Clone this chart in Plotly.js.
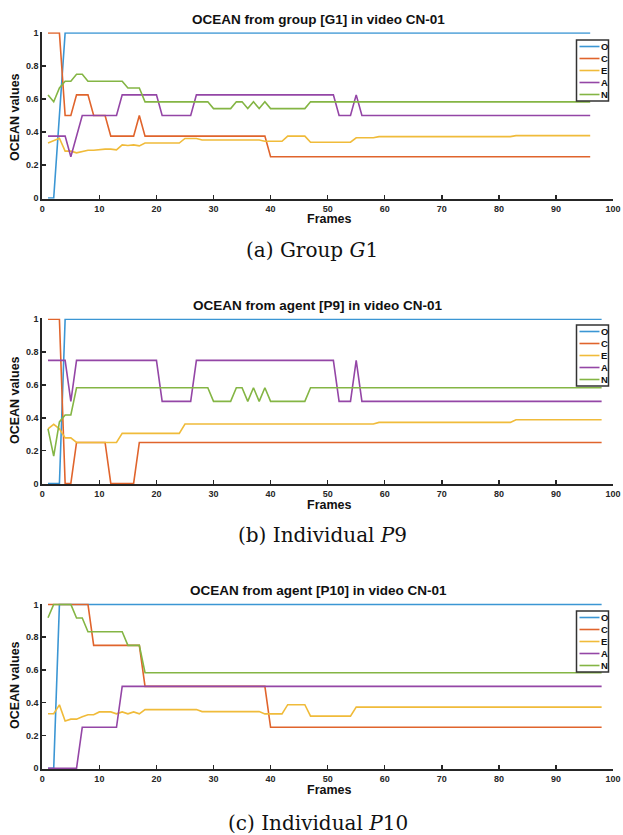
<!DOCTYPE html>
<html>
<head>
<meta charset="utf-8">
<script src="https://cdn.plot.ly/plotly-3.0.1.min.js"></script>
<style>html,body{margin:0;padding:0;background:#fff;}#chart{width:623px;height:835px;}</style>
</head>
<body>
<div id="chart"></div>
<script>
// ---------- Data (frame, value) breakpoints ----------
// Panel (a) Group G1
const g1_O_x = [1,2,4,96];
const g1_O_y = [0,0,1,1];
const g1_C_x = [1,3,4,5,6,8,9,11,12,16,17,18,39,40,96];
const g1_C_y = [1,1,0.5,0.5,0.625,0.625,0.5,0.5,0.375,0.375,0.5,0.375,0.375,0.25,0.25];
const g1_E_x = [1,2,3,4,5,6,7,8,9,10,11,12,13,14,15,16,17,18,24,25,27,28,38,39,42,43,46,47,54,55,58,59,82,83,96];
const g1_E_y = [0.333,0.347,0.362,0.284,0.284,0.274,0.283,0.289,0.289,0.293,0.296,0.296,0.292,0.322,0.318,0.322,0.316,0.333,0.333,0.361,0.361,0.352,0.352,0.344,0.344,0.375,0.375,0.338,0.338,0.365,0.365,0.372,0.372,0.378,0.378];
const g1_A_x = [1,4,5,7,13,14,20,21,26,27,51,52,54,55,56,96];
const g1_A_y = [0.375,0.375,0.25,0.5,0.5,0.625,0.625,0.5,0.5,0.625,0.625,0.5,0.5,0.625,0.5,0.5];
const g1_N_x = [1,2,3,4,5,6,7,8,14,15,17,18,29,30,33,34,35,36,37,38,39,40,46,47,96];
const g1_N_y = [0.625,0.583,0.667,0.708,0.708,0.75,0.75,0.708,0.708,0.667,0.667,0.583,0.583,0.542,0.542,0.583,0.583,0.542,0.583,0.542,0.583,0.542,0.542,0.583,0.583];

// Panel (b) Individual P9
const p9_O_x = [1,3,4,98];
const p9_O_y = [0,0,1,1];
const p9_C_x = [1,3,4,5,6,11,12,16,17,98];
const p9_C_y = [1,1,0,0,0.25,0.25,0,0,0.25,0.25];
const p9_E_x = [1,2,3,4,5,6,13,14,24,25,58,59,82,83,98];
const p9_E_y = [0.333,0.36,0.333,0.278,0.278,0.25,0.25,0.305,0.305,0.362,0.362,0.372,0.372,0.388,0.388];
const p9_A_x = [1,4,5,6,20,21,26,27,51,52,54,55,56,98];
const p9_A_y = [0.75,0.75,0.5,0.75,0.75,0.5,0.5,0.75,0.75,0.5,0.5,0.75,0.5,0.5];
const p9_N_x = [1,2,3,4,5,6,29,30,33,34,35,36,37,38,39,40,46,47,98];
const p9_N_y = [0.333,0.167,0.375,0.417,0.417,0.583,0.583,0.5,0.5,0.583,0.583,0.5,0.583,0.5,0.583,0.5,0.5,0.583,0.583];

// Panel (c) Individual P10
const p10_O_x = [1,2,3,98];
const p10_O_y = [0,0,1,1];
const p10_C_x = [1,8,9,17,18,39,40,98];
const p10_C_y = [1,1,0.75,0.75,0.5,0.5,0.25,0.25];
const p10_E_x = [1,2,3,4,5,6,7,8,9,10,11,12,13,14,15,16,17,18,27,28,38,39,42,43,46,47,54,55,98];
const p10_E_y = [0.333,0.333,0.387,0.289,0.3,0.3,0.314,0.327,0.327,0.344,0.344,0.344,0.332,0.344,0.332,0.344,0.332,0.358,0.358,0.346,0.346,0.332,0.332,0.388,0.388,0.318,0.318,0.373,0.373];
const p10_A_x = [1,6,7,13,14,98];
const p10_A_y = [0,0,0.25,0.25,0.5,0.5];
const p10_N_x = [1,2,5,6,7,8,14,15,17,18,98];
const p10_N_y = [0.918,1,1,0.917,0.917,0.833,0.833,0.75,0.75,0.583,0.583];

const seriesNames = ['O','C','E','A','N'];
const seriesColors = ['#3b96d4','#e0642c','#f0bb3a','#9446a6','#84b544'];

const panelTitles = ['OCEAN from group [G1] in video CN-01','OCEAN from agent [P9] in video CN-01','OCEAN from agent [P10] in video CN-01'];
const captions = ['(a) Group <i>G</i>1','(b) Individual <i>P</i>9','(c) Individual <i>P</i>10'];
const xTickVals = [0,10,20,30,40,50,60,70,80,90,100];
const yTickVals = [0,0.2,0.4,0.6,0.8,1];
const yTickText = ['0','0.2','0.4','0.6','0.8','1'];

const panels = [
  [[g1_O_x,g1_O_y],[g1_C_x,g1_C_y],[g1_E_x,g1_E_y],[g1_A_x,g1_A_y],[g1_N_x,g1_N_y]],
  [[p9_O_x,p9_O_y],[p9_C_x,p9_C_y],[p9_E_x,p9_E_y],[p9_A_x,p9_A_y],[p9_N_x,p9_N_y]],
  [[p10_O_x,p10_O_y],[p10_C_x,p10_C_y],[p10_E_x,p10_E_y],[p10_A_x,p10_A_y],[p10_N_x,p10_N_y]]
];

// ---------- Layout geometry (pixels of the 623x835 page) ----------
const W = 623, H = 835;
const px = v => v / W;
const py = v => 1 - v / H;
const xDomain = [0.0679, 0.984];
const yDomains = [[0.7619, 0.9614],[0.4200, 0.6186],[0.0789, 0.2772]];
const titleY = [19, 305, 590];
const framesY = [219, 505, 790];
const ylabelY = [117, 400, 685];
const captionY = [250, 535, 823];
const captionX = [312, 322, 318];
const legendTop = [40, 325, 611];
const legendLeft = 576.5, legendRight = 608.5;

const SANS = 'Liberation Sans, Arial, sans-serif';

const traces = [];
panels.forEach((p, i) => {
  const sfx = i === 0 ? '' : String(i + 1);
  p.forEach((s, j) => {
    traces.push({
      type: 'scatter', mode: 'lines',
      x: s[0], y: s[1],
      name: seriesNames[j],
      line: {color: seriesColors[j], width: 1.6},
      xaxis: 'x' + sfx, yaxis: 'y' + sfx,
      showlegend: false,
      hoverinfo: 'skip'
    });
  });
});

const tickFont = {family: SANS, size: 9, color: '#262626', weight: 'bold'};
const layout = {
  width: W, height: H,
  margin: {l: 0, r: 0, t: 0, b: 0},
  paper_bgcolor: '#ffffff', plot_bgcolor: '#ffffff',
  showlegend: false,
  annotations: [],
  shapes: [],
  font: {family: SANS}
};

panels.forEach((p, i) => {
  const sfx = i === 0 ? '' : String(i + 1);
  layout['xaxis' + sfx] = {
    domain: xDomain, anchor: 'y' + sfx, range: [0, 100],
    tickvals: xTickVals, ticks: 'inside', ticklen: 4, tickwidth: 1.5, tickcolor: '#262626',
    showline: true, linecolor: '#262626', linewidth: 2,
    showgrid: false, zeroline: false, tickfont: tickFont, fixedrange: true
  };
  layout['yaxis' + sfx] = {
    domain: yDomains[i], anchor: 'x' + sfx, range: [-0.005, 1.005],
    tickvals: yTickVals, ticktext: yTickText, ticks: 'inside', ticklen: 4, tickwidth: 1.5, tickcolor: '#262626',
    showline: true, linecolor: '#262626', linewidth: 2,
    showgrid: false, zeroline: false, tickfont: tickFont, fixedrange: true
  };
  // compact MATLAB-style legend box
  const T = legendTop[i];
  layout.shapes.push({
    type: 'rect', xref: 'paper', yref: 'paper',
    x0: px(legendLeft), x1: px(legendRight), y0: py(T + 61), y1: py(T),
    line: {color: '#333333', width: 1.5}, fillcolor: '#ffffff', layer: 'above'
  });
  seriesNames.forEach((nm, j) => {
    const ey = T + 6.5 + 12 * j;
    layout.shapes.push({
      type: 'line', xref: 'paper', yref: 'paper',
      x0: px(579.5), x1: px(599.5), y0: py(ey), y1: py(ey),
      line: {color: seriesColors[j], width: 1.6}, layer: 'above'
    });
    layout.annotations.push({
      text: nm, xref: 'paper', yref: 'paper', x: px(600), y: py(ey),
      xanchor: 'left', yanchor: 'middle', showarrow: false, borderpad: 0,
      font: {family: SANS, size: 9.5, color: '#111', weight: 'bold'}
    });
  });
  layout.annotations.push({
    text: panelTitles[i], xref: 'paper', yref: 'paper', x: px(318), y: py(titleY[i]),
    xanchor: 'center', yanchor: 'middle', showarrow: false,
    font: {family: SANS, size: 13.5, color: '#111', weight: 'bold'}
  });
  layout.annotations.push({
    text: 'Frames', xref: 'paper', yref: 'paper', x: px(329), y: py(framesY[i]),
    xanchor: 'center', yanchor: 'middle', showarrow: false, borderpad: 0,
    font: {family: SANS, size: 12.5, color: '#111', weight: 'bold'}
  });
  layout.annotations.push({
    text: 'OCEAN values', xref: 'paper', yref: 'paper', x: px(15), y: py(ylabelY[i]),
    xanchor: 'center', yanchor: 'middle', showarrow: false, textangle: -90,
    font: {family: SANS, size: 12.5, color: '#111', weight: 'bold'}
  });
  layout.annotations.push({
    text: captions[i], xref: 'paper', yref: 'paper', x: px(captionX[i]), y: py(captionY[i]),
    xanchor: 'center', yanchor: 'middle', showarrow: false,
    font: {family: 'DejaVu Serif, Liberation Serif, serif', size: 20, color: '#111'}
  });
});

Plotly.newPlot('chart', traces, layout, {staticPlot: true, displayModeBar: false});
</script>
</body>
</html>
